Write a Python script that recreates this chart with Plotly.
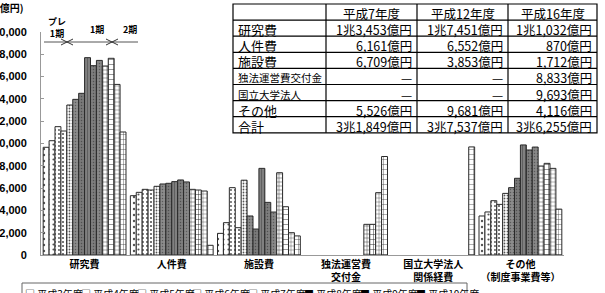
import plotly.graph_objects as go

W, H = 605, 293

# ---------------- data ----------------
years = ["平成3年度", "平成4年度", "平成5年度", "平成6年度", "平成7年度",
         "平成8年度", "平成9年度", "平成10年度", "平成11年度", "平成12年度",
         "平成13年度", "平成14年度", "平成15年度", "平成16年度"]
categories = ["研究費", "人件費", "施設費", "独法運営費<br>交付金",
              "国立大学法人<br>関係経費", "その他<br>（制度事業費等）"]

research = [9660, 10250, 11510, 11120, 13453, 13960, 14500, 17700, 16980, 17451, 16950, 17640, 15300, 11032]
personnel = [5320, 5620, 5890, 5830, 6161, 6370, 6430, 6580, 6730, 6552, 5890, 5830, 5740, 870]
facilities = [1940, 2900, 6040, 2450, 6709, 3500, 2330, 7770, 4720, 3853, 7380, 4330, 2000, 1712]
agency_grants = [None, None, None, None, None, None, None, None, None, None, 2750, 2750, 5590, 8833]
national_univ = [None, None, None, None, None, None, None, None, None, None, None, None, None, 9693]
other = [3500, 3860, 4870, 4540, 5526, 6040, 6880, 9870, 9420, 9681, 7980, 8220, 7770, 4116]

y_ticks = [0, 2000, 4000, 6000, 8000, 10000, 12000, 14000, 16000, 18000, 20000]

table_header = ["", "平成7年度", "平成12年度", "平成16年度"]
table_rows = ["研究費", "人件費", "施設費", "独法運営費交付金", "国立大学法人", "その他", "合計"]
table_h7 = [13453, 6161, 6709, None, None, 5526, 31849]
table_h12 = [17451, 6552, 3853, None, None, 9681, 37537]
table_h16 = [11032, 870, 1712, 8833, 9693, 4116, 36255]

period_labels = ["プレ<br>1期", "1期", "2期"]
unit_label = "(億円)"

# ---------------- styles ----------------
FONT = "Noto Sans CJK JP"
bar_styles = (
    [dict(shape=".", bg="white", fg="#555", size=6, sol=0.12),
     dict(shape=".", bg="white", fg="#555", size=5, sol=0.15),
     dict(shape=".", bg="white", fg="#555", size=4, sol=0.18),
     dict(shape=".", bg="white", fg="#555", size=4, sol=0.22),
     dict(shape=".", bg="white", fg="#555", size=3, sol=0.28)] +
    [dict(shape=".", bg="#8c8c8c", fg="#5a5a5a", size=3, sol=0.2),
     dict(shape=".", bg="#7a7a7a", fg="#505050", size=3, sol=0.2),
     dict(shape="|", bg="#808080", fg="#555555", size=3, sol=0.25),
     dict(shape=".", bg="#7e7e7e", fg="#505050", size=3, sol=0.2),
     dict(shape=".", bg="#888888", fg="#5a5a5a", size=3, sol=0.2)] +
    [dict(shape="+", bg="white", fg="#222", size=4, sol=0.2),
     dict(shape="+", bg="white", fg="#222", size=5, sol=0.18),
     dict(shape="+", bg="white", fg="#333", size=4, sol=0.18),
     dict(shape="+", bg="white", fg="#333", size=5, sol=0.15)]
)
legend_marks = ["□"] * 5 + ["■"] * 5 + ["▦"] * 4
small_rows = {"独法運営費交付金", "国立大学法人"}

# table geometry (pixels)
TBL_COLS = [233, 326, 417, 508, 597]
TBL_TOP, TBL_ROW_H = 4, 16.1


def px_x(x):
    return x / W


def px_y(y):
    return 1 - y / H


def oku(v):
    if v is None:
        return "—"
    cho, rest = divmod(v, 10000)
    return (f"{cho}兆" if cho else "") + f"{rest:,}億円"


series = [research, personnel, facilities, agency_grants, national_univ, other]

fig = go.Figure()
for i, yr in enumerate(years):
    st = bar_styles[i]
    fig.add_trace(go.Bar(
        name=yr,
        x=categories,
        y=[s[i] for s in series],
        marker=dict(color=st["bg"], line=dict(color="#2a2a2a", width=1),
                    pattern=dict(shape=st["shape"], bgcolor=st["bg"], fgcolor=st["fg"],
                                 size=st["size"], solidity=st["sol"], fillmode="replace")),
        showlegend=False,
    ))

shapes = []
annotations = []


def txt(text, x, y, xanchor="center", size=12, bold=False, family=FONT, yanchor="middle"):
    f = dict(family=family, size=size, color="black")
    if bold:
        f["weight"] = "bold"
    annotations.append(dict(text=text, xref="paper", yref="paper", x=px_x(x), y=px_y(y),
                            xanchor=xanchor, yanchor=yanchor, showarrow=False, font=f))


# ---------------- table (drawn from the table lists) ----------------
n_rows = len(table_rows) + 1
tbl_bottom = TBL_TOP + n_rows * TBL_ROW_H
shapes.append(dict(type="rect", xref="paper", yref="paper",
                   x0=px_x(TBL_COLS[0]), x1=px_x(TBL_COLS[-1]),
                   y0=px_y(TBL_TOP), y1=px_y(tbl_bottom),
                   line=dict(color="black", width=1.2), fillcolor="white", layer="below"))
for k in range(1, n_rows):
    yy = TBL_TOP + k * TBL_ROW_H
    shapes.append(dict(type="line", xref="paper", yref="paper",
                       x0=px_x(TBL_COLS[0]), x1=px_x(TBL_COLS[-1]), y0=px_y(yy), y1=px_y(yy),
                       line=dict(color="black", width=1.2)))
for cx in TBL_COLS[1:-1]:
    shapes.append(dict(type="line", xref="paper", yref="paper",
                       x0=px_x(cx), x1=px_x(cx), y0=px_y(TBL_TOP), y1=px_y(tbl_bottom),
                       line=dict(color="black", width=1.2)))

for c, head in enumerate(table_header):
    if head:
        txt(head, (TBL_COLS[c] + TBL_COLS[c + 1]) / 2, TBL_TOP + TBL_ROW_H / 2 + 1, size=12.5)

columns = [table_h7, table_h12, table_h16]
for r, lab in enumerate(table_rows):
    yc = TBL_TOP + (r + 1.5) * TBL_ROW_H + 1.5
    txt(lab, TBL_COLS[0] + 3, yc, xanchor="left", size=10.5 if lab in small_rows else 13)
    for c, col in enumerate(columns):
        txt(oku(col[r]), TBL_COLS[c + 2] - 3, yc, xanchor="right", size=12.5)

# unit label
txt(unit_label, 26, 7, xanchor="right", size=10, bold=True)

# period labels and arrow line
period_pos = [(57, 28), (97, 29), (130, 29)]
for lab, (x, y) in zip(period_labels, period_pos):
    txt(lab, x, y, size=9, bold=True)
shapes.append(dict(type="line", xref="paper", yref="paper", x0=px_x(44), x1=px_x(138),
                   y0=px_y(42), y1=px_y(42), line=dict(color="#555", width=1)))
for bx in (67, 112):
    for d in (-1, 1):
        path = (f"M {px_x(bx + 6 * d)} {px_y(39)} L {px_x(bx)} {px_y(42)} "
                f"L {px_x(bx + 6 * d)} {px_y(45)}")
        shapes.append(dict(type="path", xref="paper", yref="paper", path=path,
                           line=dict(color="#333", width=1)))

# legend (compact, like the original)
shapes.append(dict(type="rect", xref="paper", yref="paper", x0=px_x(22), x1=px_x(467),
                   y0=px_y(283), y1=px_y(312), line=dict(color="#666", width=1),
                   fillcolor="rgba(0,0,0,0)"))
for i, (yr, mk) in enumerate(zip(years, legend_marks)):
    row, col = divmod(i, 8)
    txt(f"{mk} {yr}", 23 + col * 55.8, 284 + row * 13, xanchor="left", size=10, yanchor="top")

fig.update_layout(
    width=W, height=H,
    margin=dict(l=0, r=0, t=0, b=0, autoexpand=False),
    paper_bgcolor="white", plot_bgcolor="white",
    barmode="group", bargap=0.05, bargroupgap=0,
    showlegend=False,
    font=dict(family=FONT, color="black"),
    shapes=shapes, annotations=annotations,
    xaxis=dict(domain=[px_x(41), px_x(564)], showline=True, linecolor="#999", linewidth=1,
               ticks="", showgrid=False, automargin=False,
               tickfont=dict(family=FONT, size=10, color="black", weight="bold")),
    yaxis=dict(domain=[px_y(255), px_y(32)], range=[0, 20000], tickvals=y_ticks,
               tickformat=",d", showline=True, linecolor="#999", linewidth=1,
               ticks="inside", ticklen=3, tickcolor="#999", showgrid=False,
               zeroline=False, automargin=False, ticklabelstandoff=11,
               tickfont=dict(family="Liberation Sans", size=11, color="black", weight="bold")),
)

fig.write_html("out.html")
